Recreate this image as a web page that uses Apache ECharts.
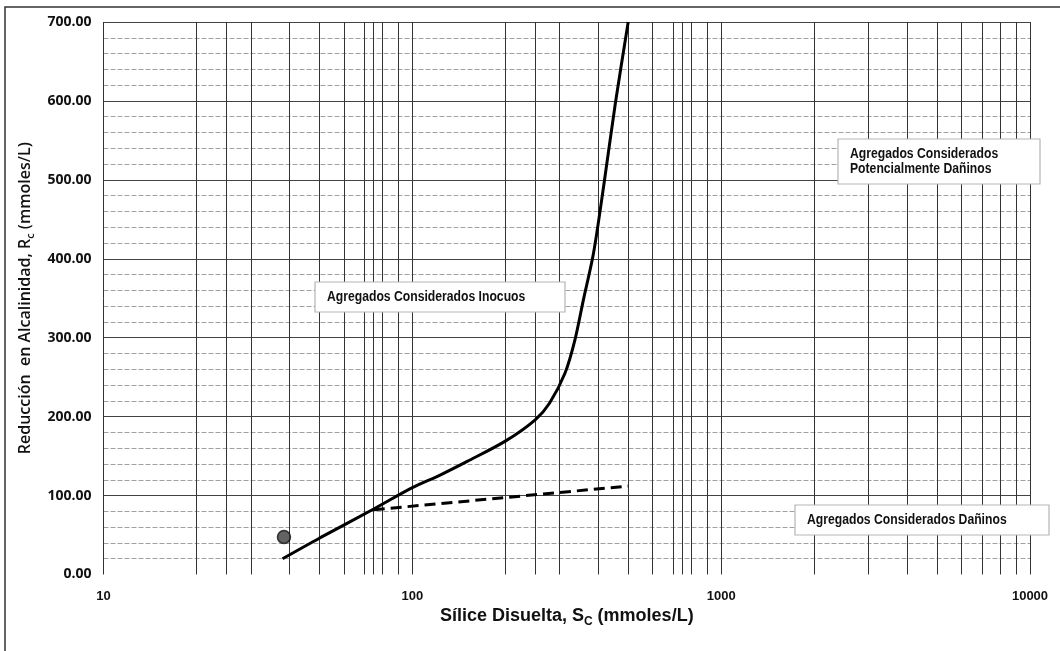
<!DOCTYPE html>
<html>
<head>
<meta charset="utf-8">
<script src="https://cdn.jsdelivr.net/npm/echarts@6/dist/echarts.min.js"></script>
<style>
  html, body { margin: 0; padding: 0; background: #fff; }
  #chart { width: 1060px; height: 651px; }
</style>
</head>
<body>
<div id="chart"></div>
<script>
// Dissolved silica (x, log scale) vs. reduction in alkalinity (y)
const decadeTicks = [10, 100, 1000, 10000];
const intermediateGrid = [20, 25, 30, 40, 50, 60, 70, 75, 80, 90,
                          200, 250, 300, 400, 500, 600, 700, 750, 800, 900,
                          2000, 3000, 4000, 5000, 6000, 7000, 8000, 9000];

// Boundary between innocuous and potentially deleterious aggregates
const boundarySilica = [38, 50, 75, 100, 123, 150, 200, 250, 278, 312, 336, 358, 386, 416, 454, 500];
const boundaryAlk    = [20, 46, 83, 110, 126, 143, 169, 196, 217, 255, 297, 348, 407, 491, 596, 700];

// Boundary between deleterious and potentially deleterious aggregates
const deleteriousSilica = [75, 500];
const deleteriousAlk    = [82, 112];

// Tested sample
const sampleSilica = [38.4];
const sampleAlk    = [47.5];

const zipPts = (xs, ys) => xs.map((x, i) => [x, ys[i]]);

const boxFont = 'bold 14px "Liberation Sans", Arial, sans-serif';
const titleFont = '"Liberation Sans", Arial, sans-serif';
const tickFont = '"Open Sans", "Noto Sans", sans-serif';

const chart = echarts.init(document.getElementById('chart'), null, { renderer: 'canvas' });

// white text box with a thin grey border; text is slightly condensed
function textBox(x, y, w, h, text, lineHeight) {
  return {
    type: 'group',
    z: 50,
    children: [
      {
        type: 'rect',
        z: 50,
        shape: { x: x, y: y, width: w, height: h },
        style: { fill: '#fff', stroke: '#b5b5b5', lineWidth: 1.2 }
      },
      {
        type: 'text',
        z: 51,
        x: x + 12, y: y + h / 2,
        scaleX: 0.87,
        style: {
          text: text,
          fill: '#111', font: boxFont,
          lineHeight: lineHeight || 16,
          verticalAlign: 'middle'
        }
      }
    ]
  };
}

chart.setOption({
  backgroundColor: '#ffffff',
  animation: false,
  grid: { left: 103.5, right: 30, top: 22, bottom: 76.5 },
  xAxis: {
    type: 'log',
    logBase: 10,
    min: decadeTicks[0],
    max: decadeTicks[decadeTicks.length - 1],
    axisLine: { show: false },
    axisTick: { show: false },
    axisLabel: {
      margin: 15,
      color: '#111',
      fontWeight: 'bold',
      fontSize: 13,
      fontFamily: titleFont,
      formatter: v => String(Math.round(v))
    },
    splitLine: { show: true, lineStyle: { color: '#333', width: 1 } },
    name: '{m|Sílice Disuelta, S}{s|C}{m| (mmoles/L)}',
    nameLocation: 'middle',
    nameGap: 31,
    nameTextStyle: {
      rich: {
        m: { fontSize: 18, fontFamily: titleFont, fontWeight: 'bold', color: '#111', lineHeight: 22 },
        s: { fontSize: 12, fontFamily: titleFont, fontWeight: 'bold', color: '#111', lineHeight: 12, verticalAlign: 'bottom' }
      }
    }
  },
  yAxis: {
    type: 'value',
    min: 0,
    max: 700,
    interval: 100,
    axisLine: { show: false },
    axisTick: { show: false },
    axisLabel: {
      margin: 12,
      color: '#111',
      fontWeight: 'bold',
      fontSize: 14,
      fontFamily: tickFont,
      formatter: v => v.toFixed(2)
    },
    splitLine: { show: true, showMinLine: false, lineStyle: { color: '#444', width: 1 } },
    minorTick: { show: false, splitNumber: 5 },
    minorSplitLine: { show: true, lineStyle: { color: '#a0a0a0', width: 1, type: [5, 2] } },
    name: '{m|Reducción  en Alcalinidad, R}{s|c}{m| (mmoles/L)}',
    nameLocation: 'middle',
    nameGap: 58,
    nameRotate: 90,
    nameTextStyle: {
      rich: {
        m: { fontSize: 16, fontFamily: tickFont, fontWeight: 600, color: '#111', lineHeight: 22 },
        s: { fontSize: 11, fontFamily: tickFont, fontWeight: 600, color: '#111', lineHeight: 12, verticalAlign: 'bottom' }
      }
    }
  },
  series: [
    {
      // intermediate vertical grid lines of the log axis
      type: 'line',
      data: [],
      silent: true,
      markLine: {
        silent: true,
        symbol: ['none', 'none'],
        label: { show: false },
        lineStyle: { color: '#333', width: 1, type: 'solid' },
        data: intermediateGrid.map(v => ({ xAxis: v }))
      },
      z: 1
    },
    {
      name: 'Límite inocuo',
      type: 'line',
      data: zipPts(boundarySilica, boundaryAlk),
      smooth: 0.3,
      showSymbol: false,
      lineStyle: { color: '#000', width: 3 },
      z: 5
    },
    {
      name: 'Límite dañino',
      type: 'line',
      data: zipPts(deleteriousSilica, deleteriousAlk),
      showSymbol: false,
      lineStyle: { color: '#000', width: 3, type: [11, 6] },
      z: 5
    },
    {
      name: 'Muestra',
      type: 'scatter',
      data: zipPts(sampleSilica, sampleAlk),
      symbol: 'circle',
      symbolSize: 13,
      itemStyle: { color: '#3c3c3c', borderColor: '#111', borderWidth: 1.5 },
      z: 6
    }
  ],
  graphic: [
    {
      type: 'rect',
      shape: { x: 5, y: 7, width: 1080, height: 660 },
      style: { fill: 'none', stroke: '#333', lineWidth: 1.5 },
      silent: true,
      z: 100
    },
    textBox(315, 282, 250, 30, 'Agregados Considerados Inocuos'),
    textBox(838, 139, 202, 45, 'Agregados Considerados\nPotencialmente Dañinos', 15),
    textBox(795, 505, 254, 30, 'Agregados Considerados Dañinos')
  ]
});
</script>
</body>
</html>
